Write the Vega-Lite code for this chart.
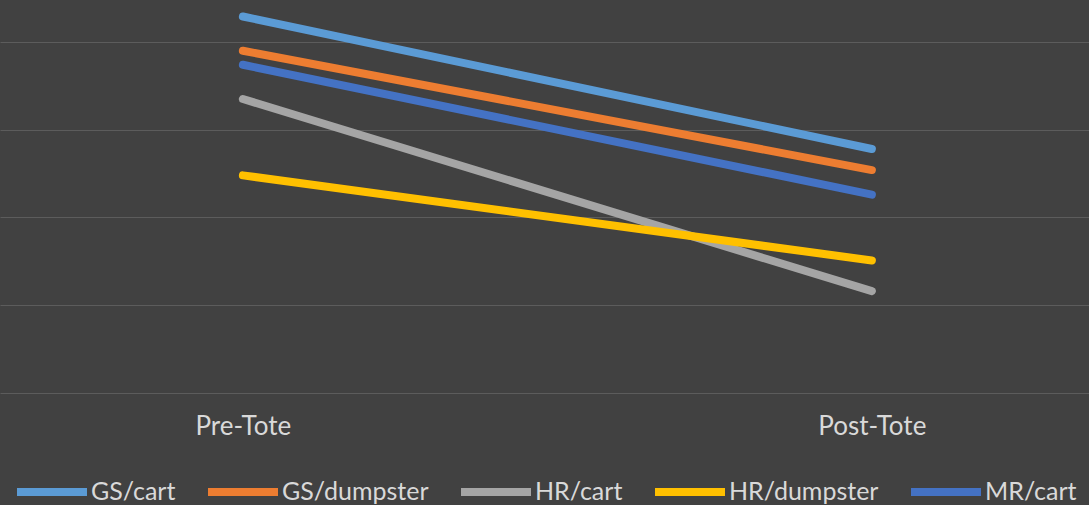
{
  "$schema": "https://vega.github.io/schema/vega-lite/v6.json",
  "width": 1089,
  "height": 391,
  "padding": 0,
  "background": "#414141",
  "data": {
    "values": [
      {"series": "GS/cart", "phase": "Pre-Tote", "value": 42.9},
      {"series": "GS/cart", "phase": "Post-Tote", "value": 27.8},
      {"series": "GS/dumpster", "phase": "Pre-Tote", "value": 39.0},
      {"series": "GS/dumpster", "phase": "Post-Tote", "value": 25.4},
      {"series": "HR/cart", "phase": "Pre-Tote", "value": 33.5},
      {"series": "HR/cart", "phase": "Post-Tote", "value": 11.6},
      {"series": "HR/dumpster", "phase": "Pre-Tote", "value": 24.8},
      {"series": "HR/dumpster", "phase": "Post-Tote", "value": 15.1},
      {"series": "MR/cart", "phase": "Pre-Tote", "value": 37.4},
      {"series": "MR/cart", "phase": "Post-Tote", "value": 22.6}
    ]
  },
  "mark": {"type": "line", "strokeWidth": 8, "strokeCap": "round"},
  "encoding": {
    "x": {
      "field": "phase",
      "type": "nominal",
      "sort": ["Pre-Tote", "Post-Tote"],
      "scale": {"type": "point", "padding": 0.3657, "align": 0.528},
      "axis": {
        "title": null,
        "domain": false,
        "ticks": false,
        "grid": false,
        "labelAngle": 0,
        "labelFont": "Lato",
        "labelFontSize": 26,
        "labelColor": "#d9d9d9",
        "labelPadding": 20
      }
    },
    "y": {
      "field": "value",
      "type": "quantitative",
      "scale": {"domain": [0, 44.55], "nice": false, "zero": true},
      "axis": {
        "title": null,
        "values": [0, 10, 20, 30, 40],
        "labels": false,
        "ticks": false,
        "domain": false,
        "grid": true,
        "gridColor": "#5c5c5c",
        "gridWidth": 1.2
      }
    },
    "color": {
      "field": "series",
      "type": "nominal",
      "scale": {
        "domain": ["GS/cart", "GS/dumpster", "HR/cart", "HR/dumpster", "MR/cart"],
        "range": ["#5B9BD5", "#ED7D31", "#A5A5A5", "#FFC000", "#4472C4"]
      },
      "legend": {
        "orient": "bottom",
        "direction": "horizontal",
        "title": null,
        "symbolType": "stroke",
        "symbolSize": 4900,
        "symbolStrokeWidth": 8,
        "labelFont": "Lato",
        "labelFontSize": 25,
        "labelColor": "#d9d9d9",
        "labelOffset": 0,
        "columnPadding": 16,
        "offset": 14
      }
    }
  },
  "config": {
    "view": {"stroke": null},
    "legend": {"layout": {"bottom": {"anchor": "middle"}}}
  }
}
